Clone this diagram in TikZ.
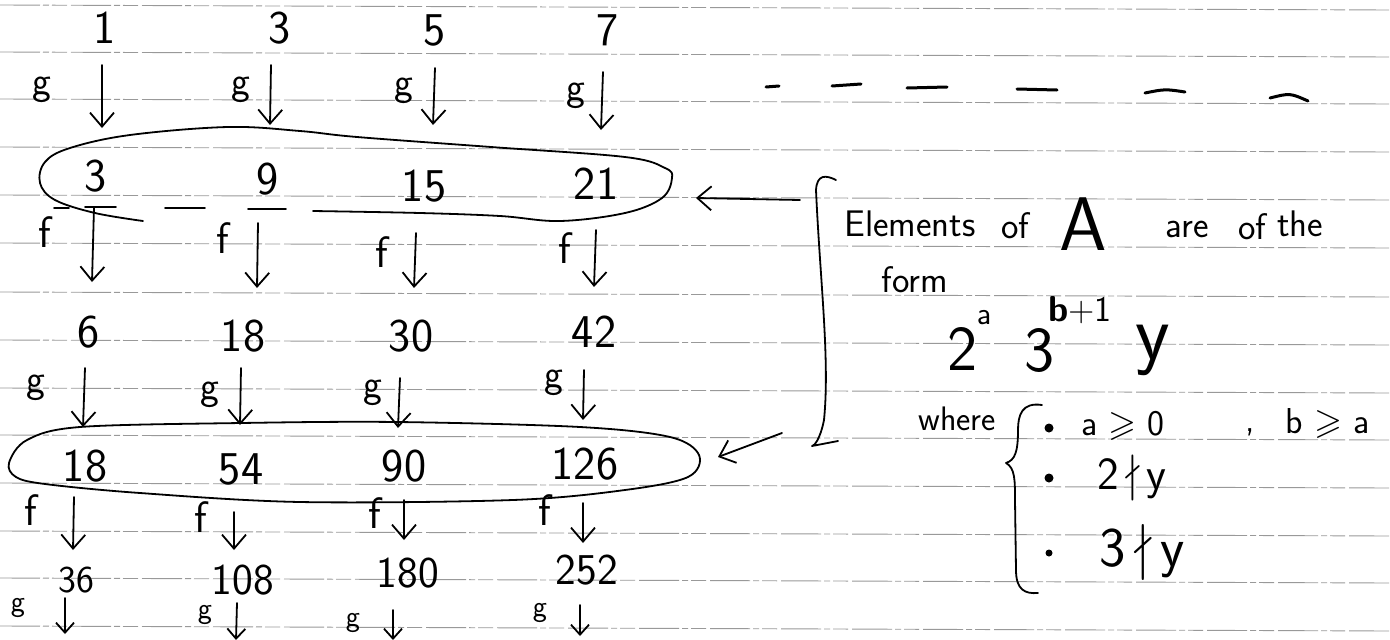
\documentclass[tikz,border=0pt]{standalone}
\usepackage{amssymb}
\usepackage{fontspec}
\usetikzlibrary{arrows.meta}
\tikzset{
  ink/.style={line width=1.8pt, line cap=round, line join=round},
  arr/.style={ink, -{Straight Barb[length=14pt,width=24pt]}},
  sarr/.style={ink, -{Straight Barb[length=10pt,width=18pt]}},
  num/.style={inner sep=0pt, font=\fontsize{47}{47}\selectfont\sffamily},
  snum/.style={inner sep=0pt, font=\fontsize{44}{44}\selectfont\sffamily},
  glab/.style={inner sep=0pt, font=\fontsize{40}{40}\selectfont\sffamily},
  flab/.style={inner sep=0pt, font=\fontsize{44}{44}\selectfont\sffamily},
  txt/.style={inner sep=0pt, font=\fontsize{37}{37}\selectfont\sffamily},
  ruled/.style={line width=0.9pt, black!40, dash pattern=on 40pt off 3pt on 6pt off 3pt on 15pt off 4pt},
  dashmark/.style={line width=3pt, line cap=round},
}
\begin{document}
\begin{tikzpicture}[x=1pt,y=-1pt]
\fill[white] (0,0) rectangle (1390,640);
\useasboundingbox (0,0) rectangle (1390,640);
% ruled paper lines
\foreach \y in {5,52,99,147,195,243,292,340,388,435,483,531,578,626}
  \draw[ruled] (0,\y) -- (1390,{\y+5});

% rows of numbers
\node[num] (r1a) at (105,28) {1};
\node[num] (r1b) at (280,28) {3};
\node[num] (r1c) at (435,30) {5};
\node[num] (r1d) at (608,30) {7};

\node[num] (r2a) at (96,176) {3};
\node[num] (r2b) at (268,179) {9};
\node[num] (r2c) at (424,186) {15};
\node[num] (r2d) at (596,184) {21};

\node[num] (r3a) at (89,332) {6};
\node[num] (r3b) at (243,336) {18};
\node[num] (r3c) at (411,336) {30};
\node[num] (r3d) at (594,332) {42};

\node[num] (r4a) at (85,466) {18};
\node[num] (r4b) at (241,469) {54};
\node[num] (r4c) at (404,466) {90};
\node[num] (r4d) at (585,464) {126};

\node[inner sep=0pt, font=\fontsize{38}{38}\selectfont\sffamily] (r5a) at (76,580) {36};
\node[snum] (r5b) at (243,580) {108};
\node[snum] (r5c) at (408,573) {180};
\node[snum] (r5d) at (587,570) {252};

% arrows with labels
\foreach \n/\xs/\ys/\xe/\ye/\lx/\ly in {
  ga/102/65/102/128/42/90, gb/271/65/270/125/241/90, gc/435/68/433/125/404/91, gd/603/72/601/130/576/96,
  ha/85/368/83/427/36/388, hb/241/368/240/425/210/395, hc/400/378/398/428/373/393, hd/584/370/583/420/554/383}
{
  \coordinate (\n s) at (\xs,\ys);
  \coordinate (\n e) at (\xe,\ye);
  \draw[arr] (\n s) -- (\n e);
  \node[glab] (\n l) at (\lx,\ly) {g};
}
\foreach \n/\xs/\ys/\xe/\ye/\lx/\ly in {
  fa/94/207/92/282/45/232, fb/258/223/257/288/223/238, fc/416/233/414/288/382/252, fd/596/230/594/287/565/248,
  ka/74/497/73/550/31/510, kb/234/512/234/550/201/517, kc/404/500/404/540/375/513, kd/583/503/583/543/545/510}
{
  \coordinate (\n s) at (\xs,\ys);
  \coordinate (\n e) at (\xe,\ye);
  \draw[arr] (\n s) -- (\n e);
  \node[flab] (\n l) at (\lx,\ly) {f};
}
\foreach \n/\xs/\ys/\xe/\ye/\lx/\ly in {
  ma/65/598/65/634/18/608, mb/237/603/236/640/205/615, mc/393/610/393/640/353/623, md/580/605/580/636/540/613}
{
  \coordinate (\n s) at (\xs,\ys);
  \coordinate (\n e) at (\xe,\ye);
  \draw[sarr] (\n s) -- (\n e);
  \node[inner sep=0pt, font=\fontsize{30}{30}\selectfont\sffamily] (\n l) at (\lx,\ly) {g};
}
% tick at top of first f arrow and short strokes
\draw[ink] (85,207) -- (116,207);
\draw[ink] (165,208) -- (205,208);
\draw[ink] (248,209) -- (286,209);
\draw[ink] (54,208) -- (69,208);

% loop around second row
\draw[ink] plot[smooth, tension=0.6] coordinates {
  (143,221) (95,213) (55,200) (40,183) (45,162) (70,148) (130,135) (228,127)
  (300,131) (357,137) (491,147) (625,157) (665,168) (672,178) (662,198)
  (625,213) (560,221) (500,216) (420,213) (313,211)};

% loop around fourth row
\draw[ink] plot[smooth cycle, tension=0.55] coordinates {
  (9,463) (27,440) (80,427) (241,423) (397,422) (580,427) (670,437) (699,455)
  (688,477) (625,490) (513,500) (300,502) (140,493) (45,484) (16,477)};

% dashes top right
\draw[dashmark] (766,87) -- (779,86);
\draw[dashmark] (832,86) -- (861,84);
\draw[dashmark] (907,88) -- (947,87);
\draw[dashmark] (1017,89) -- (1057,90);
\draw[dashmark] (1145,93) .. controls (1165,89) .. (1185,92);
\draw[dashmark] (1270,98) .. controls (1290,93) .. (1308,101);

% bracket
\draw[ink] (836,180) .. controls (826,175) and (817,174) .. (816,190)
  .. controls (820,280) and (830,360) .. (824,420)
  .. controls (820,440) and (814,446) .. (812,446) -- (838,441);
\coordinate (bt) at (800,200);
\coordinate (bb) at (782,433);
\coordinate (e1) at (696,198);
\coordinate (e2) at (718,457);
\draw[arr] (bt) -- (e1);
\draw[arr] (bb) -- (e2);

% text
\node[txt] (w1) at (910,224) {Elements};
\node[txt] (w2) at (1015,226) {of};
\node[inner sep=0pt, font=\fontsize{76}{76}\selectfont\sffamily] (w3) at (1083,224) {A};
\node[txt] (w4) at (1187,229) {are};
\node[txt] (w5) at (1252,227) {of};
\node[txt] (w6) at (1300,224) {the};
\node[txt] (w7) at (915,280) {form};

\node[inner sep=0pt, font=\fontsize{64}{64}\selectfont\sffamily] (p2) at (963,349) {2};
\node[inner sep=0pt, font=\fontsize{32}{32}\selectfont\sffamily] (pa) at (984,318) {a};
\node[inner sep=0pt, font=\fontsize{64}{64}\selectfont\sffamily] (p3) at (1040,351) {3};
\node[inner sep=0pt, font=\fontsize{36}{36}\selectfont\sffamily] (pb) at (1080,310) {{\bfseries b}+1};
\node[inner sep=0pt, font=\fontsize{80}{80}\selectfont\sffamily] (py) at (1153,350) {y};

\node[inner sep=0pt, font=\fontsize{34}{34}\selectfont\sffamily] (wh) at (957,419) {where};
\draw[ink] (1042,405) .. controls (1022,402) and (1018,415) .. (1018,430)
  .. controls (1018,452) and (1015,460) .. (1006,463)
  .. controls (1015,468) and (1015,480) .. (1015,500)
  -- (1016,570) .. controls (1016,590) and (1025,594) .. (1038,593);
\fill (1049,428) circle (4.5);
\fill (1049,478) circle (4.5);
\fill (1049,553) circle (3.5);
\node[inner sep=0pt, font=\fontsize{36}{36}\selectfont\sffamily] (c1) at (1123,426) {a $\geqslant$ 0};
\node[inner sep=0pt, font=\fontsize{36}{36}\selectfont\sffamily] (cm) at (1250,432) {,};
\node[inner sep=0pt, font=\fontsize{36}{36}\selectfont\sffamily] (c2) at (1328,423) {b $\geqslant$ a};
\node[inner sep=0pt, font=\fontsize{46}{46}\selectfont\sffamily] (c3) at (1132,478) {2\,$\nmid$\,y};
\node[inner sep=0pt, font=\fontsize{56}{56}\selectfont\sffamily] (c4) at (1142,553) {3\,$\nmid$\,y};
\end{tikzpicture}
\end{document}
